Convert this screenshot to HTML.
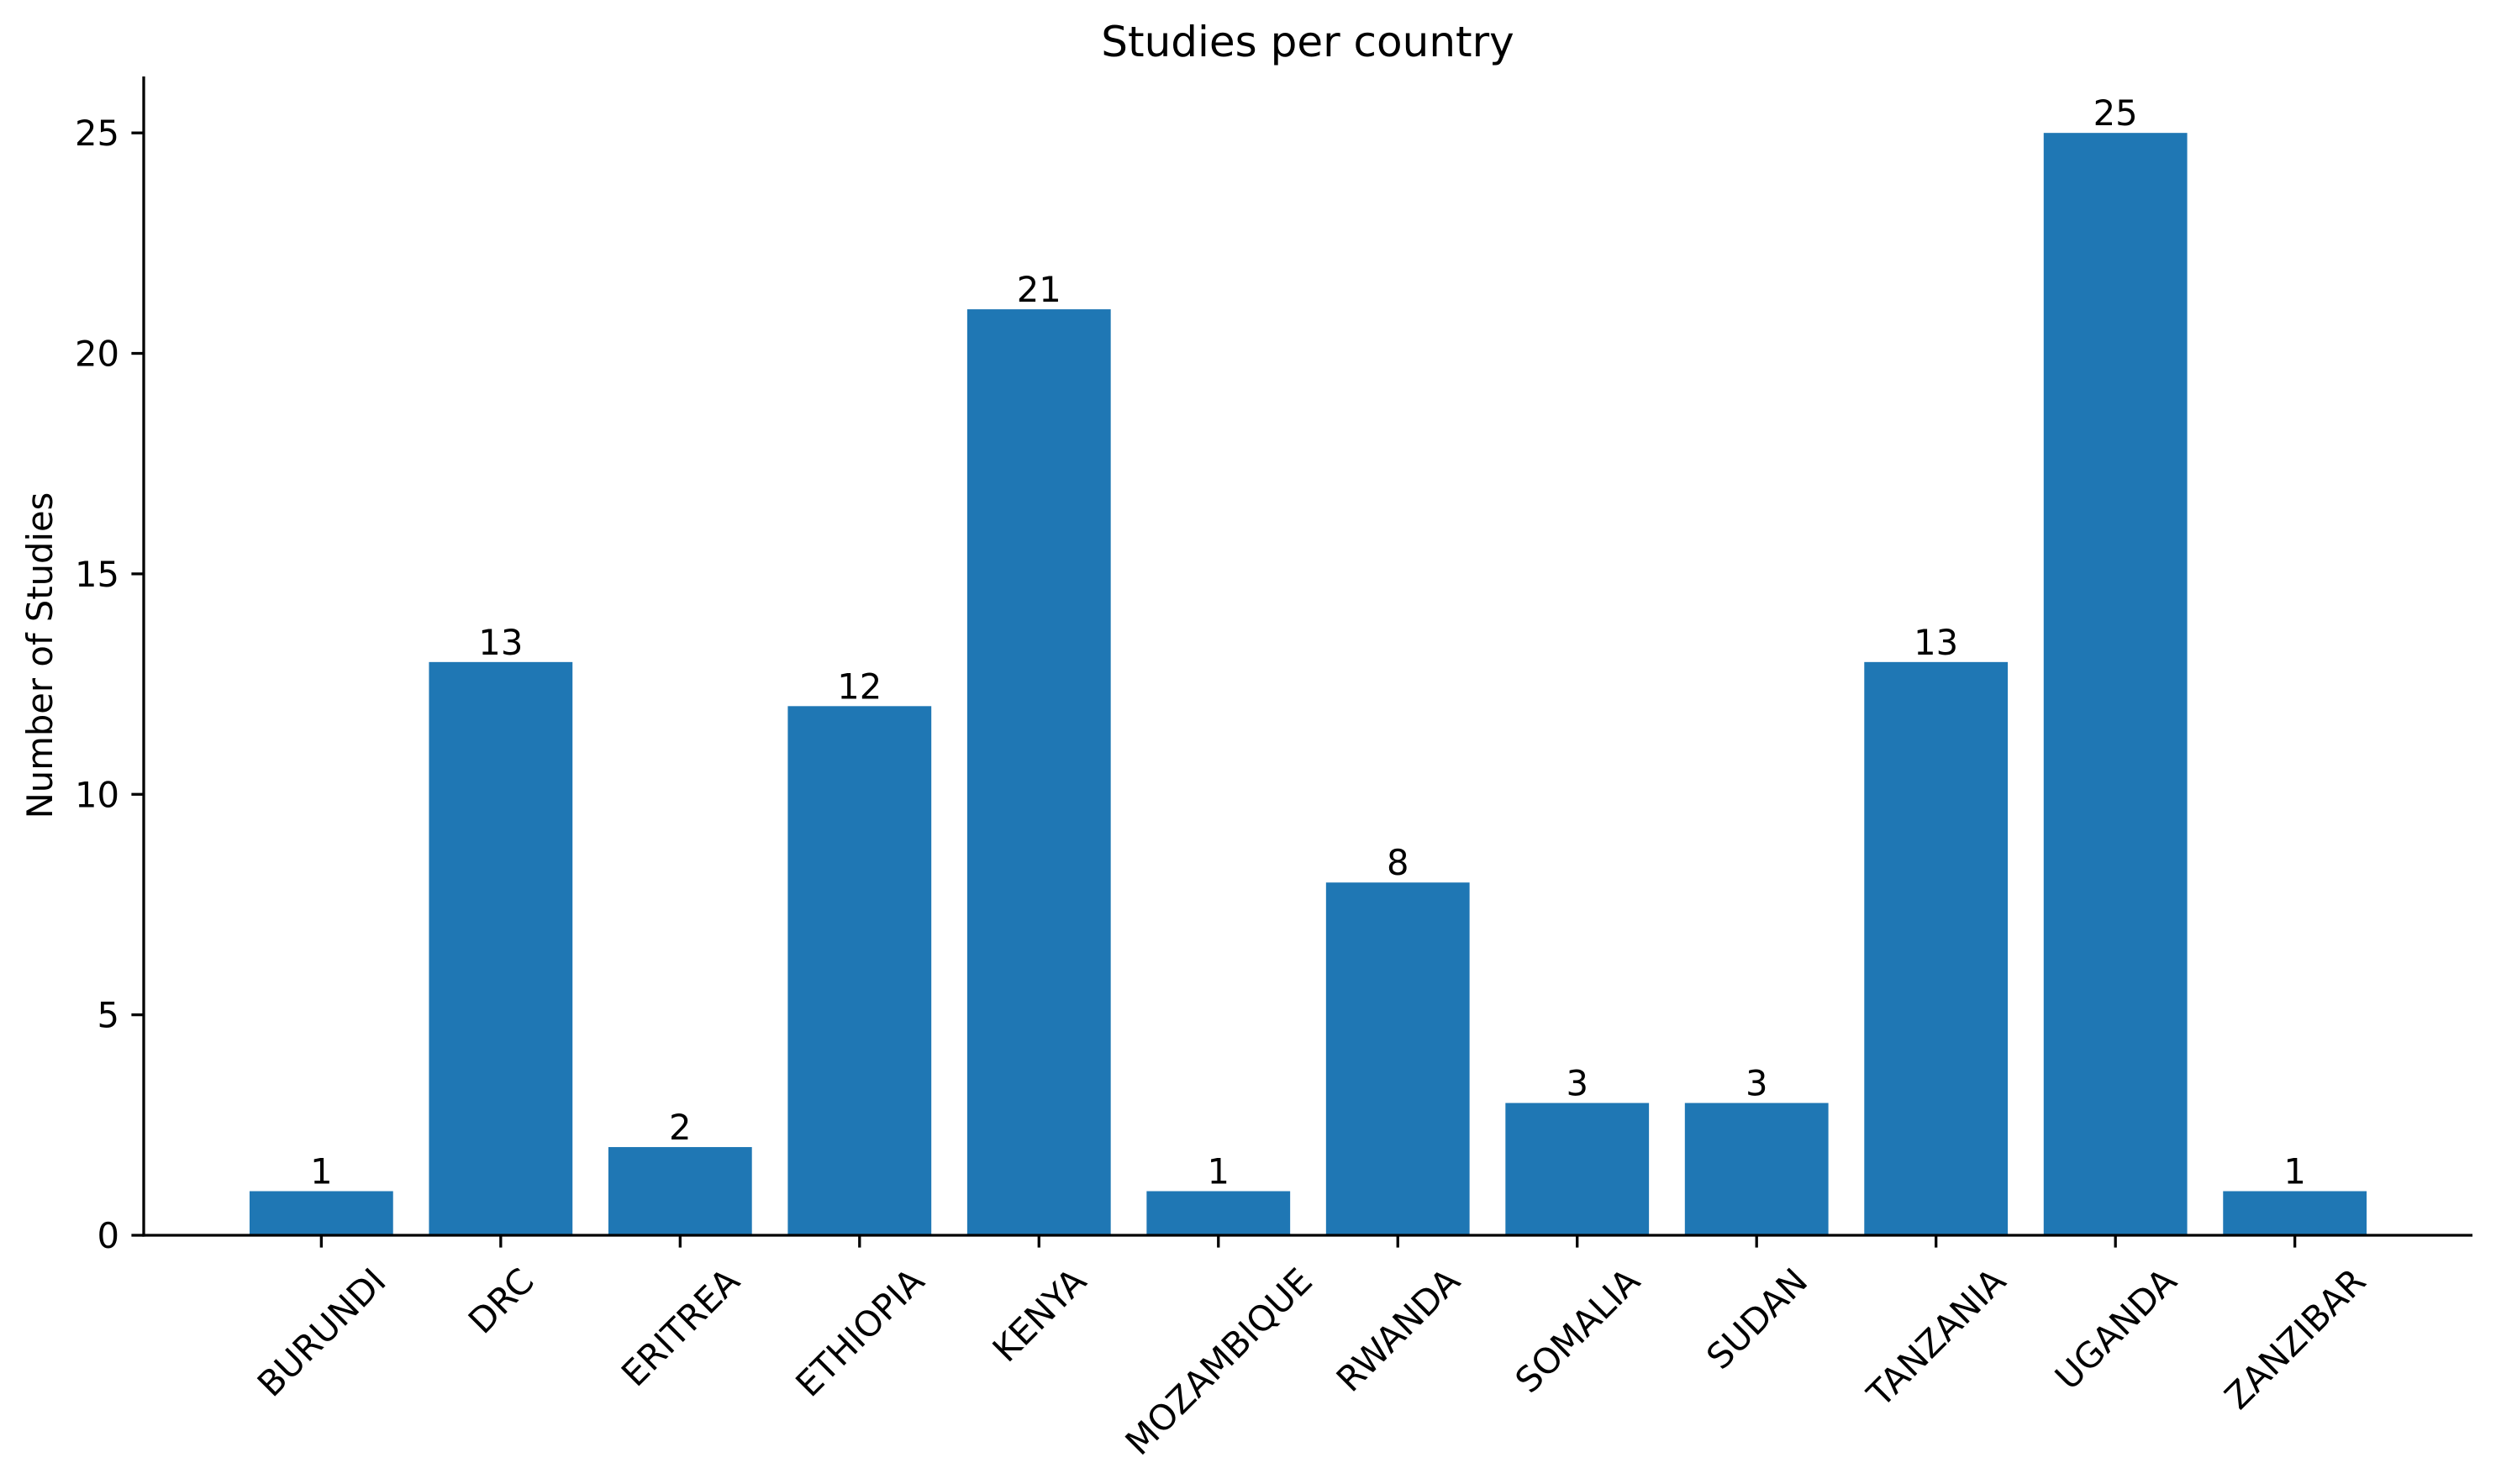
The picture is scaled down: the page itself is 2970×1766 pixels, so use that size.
<!DOCTYPE html>
<html><head><meta charset="utf-8"><style>
html,body{margin:0;padding:0;background:#fff;}
svg{display:block;font-family:"DejaVu Sans","Liberation Sans",sans-serif;}
</style></head><body>
<svg id="chart" width="2970" height="1766" viewBox="0 0 2970 1766" xmlns="http://www.w3.org/2000/svg">
<rect width="2970" height="1766" fill="#fff"/>
<text x="1556" y="67" font-size="50" text-anchor="middle">Studies per country</text>
<text transform="translate(62,780) rotate(-90)" font-size="41.7" text-anchor="middle">Number of Studies</text>
<g id="bars"></g>
<g id="axes"></g>
</svg>
<script>
var categories = ["BURUNDI","DRC","ERITREA","ETHIOPIA","KENYA","MOZAMBIQUE","RWANDA","SOMALIA","SUDAN","TANZANIA","UGANDA","ZANZIBAR"];
var values = [1,13,2,12,21,1,8,3,3,13,25,1];
var yTicks = [0,5,10,15,20,25];

var NS = "http://www.w3.org/2000/svg";
var left = 171, right = 2942, top0 = 91, bottom = 1470;
var xMin = -0.99, xMax = 11.99;
var yMax = 26.28;
function xs(v){ return left + (v - xMin) / (xMax - xMin) * (right - left); }
function ys(v){ return bottom - v / yMax * (bottom - top0); }
function mk(tag, attrs){ var e = document.createElementNS(NS, tag); for (var k in attrs) e.setAttribute(k, attrs[k]); return e; }

var bars = document.getElementById('bars');
var axes = document.getElementById('axes');
var bw = 0.8;
for (var i = 0; i < categories.length; i++) {
  var c = categories[i];
  var v = values[i];
  var r = mk('rect', {x: xs(i - bw/2), y: ys(v), width: xs(i + bw/2) - xs(i - bw/2), height: ys(0) - ys(v), fill: '#1f77b4'});
  
  
  bars.appendChild(r);
  var t = mk('text', {x: xs(i), y: ys(v) - 9, 'font-size': 41.7, 'text-anchor': 'middle'});
  t.textContent = String(v);
  
  
  bars.appendChild(t);
  var tk = mk('line', {x1: xs(i), x2: xs(i), y1: bottom, y2: bottom + 14.6, stroke: '#000', 'stroke-width': 3.3});
  
  
  axes.appendChild(tk);
  var lab = mk('text', {x: 0, y: 0, 'font-size': 41.7, 'text-anchor': 'middle'});
  lab.textContent = c;
  
  
  axes.appendChild(lab);
  var w = c.length * 41.7 * 0.72;
  try { var m = lab.getComputedTextLength(); if (m > 0) w = m; } catch (e) {}
  var h = 30;
  var cy = 1506 + (w + h) / (2 * Math.SQRT2);
  lab.setAttribute('transform', 'translate(' + xs(i) + ',' + cy + ') rotate(-45) translate(0,' + (h/2) + ')');
}
for (var j = 0; j < yTicks.length; j++) {
  var yv = yTicks[j];
  var ytk = mk('line', {x1: left - 14.6, x2: left, y1: ys(yv), y2: ys(yv), stroke: '#000', 'stroke-width': 3.3});
  
  
  axes.appendChild(ytk);
  var yt = mk('text', {x: left - 29, y: ys(yv) + 15, 'font-size': 41.7, 'text-anchor': 'end'});
  yt.textContent = String(yv);
  
  
  axes.appendChild(yt);
}
var yAxis = mk('line', {x1: left, x2: left, y1: top0, y2: bottom + 1.6, stroke: '#000', 'stroke-width': 3.3});


axes.appendChild(yAxis);
var xAxis = mk('line', {x1: left - 1.6, x2: right, y1: bottom, y2: bottom, stroke: '#000', 'stroke-width': 3.3});


axes.appendChild(xAxis);
</script>
</body></html>
